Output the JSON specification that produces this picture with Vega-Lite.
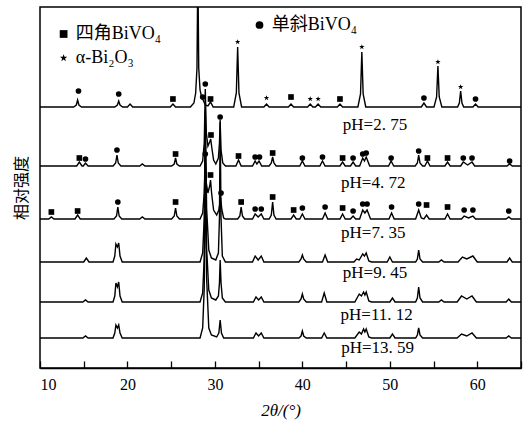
{
"$schema":"https://vega.github.io/schema/vega-lite/v6.json",
"autosize":"none",
"width":481,"height":361,
"padding":{"left":40,"top":7,"right":5,"bottom":59},
"background":"white",
"config":{"view":{"stroke":"black","strokeWidth":1.5},"axis":{"grid":false}},
"datasets":{
"lines":[
{"s":"a","x":10,"y":261},{"s":"a","x":13.85,"y":261},{"s":"a","x":14.15,"y":263},{"s":"a","x":14.3,"y":268},{"s":"a","x":14.45,"y":263},{"s":"a","x":14.75,"y":261},
{"s":"a","x":18.55,"y":261},{"s":"a","x":18.85,"y":263},{"s":"a","x":19.0,"y":267},{"s":"a","x":19.15,"y":263},{"s":"a","x":19.45,"y":261},
{"s":"a","x":20.0,"y":261},{"s":"a","x":20.3,"y":264},{"s":"a","x":20.6,"y":261},
{"s":"a","x":24.9,"y":261},{"s":"a","x":25.2,"y":264},{"s":"a","x":25.5,"y":261},
{"s":"a","x":27.2,"y":261},{"s":"a","x":27.6,"y":265},{"s":"a","x":27.8,"y":275},{"s":"a","x":27.95,"y":300},{"s":"a","x":28.05,"y":400},{"s":"a","x":28.15,"y":300},{"s":"a","x":28.3,"y":278},{"s":"a","x":28.5,"y":270},{"s":"a","x":28.65,"y":268},{"s":"a","x":28.9,"y":263},{"s":"a","x":29.2,"y":262},{"s":"a","x":29.5,"y":266},{"s":"a","x":29.8,"y":261},
{"s":"a","x":32.15,"y":261},{"s":"a","x":32.45,"y":275},{"s":"a","x":32.6,"y":321},{"s":"a","x":32.75,"y":275},{"s":"a","x":33.05,"y":261},
{"s":"a","x":35.6,"y":261},{"s":"a","x":35.9,"y":264},{"s":"a","x":36.2,"y":261},
{"s":"a","x":38.4,"y":261},{"s":"a","x":38.7,"y":264},{"s":"a","x":39.0,"y":261},
{"s":"a","x":40.6,"y":261},{"s":"a","x":40.9,"y":264},{"s":"a","x":41.2,"y":261},{"s":"a","x":41.5,"y":261},{"s":"a","x":41.8,"y":264},{"s":"a","x":42.1,"y":261},
{"s":"a","x":44.0,"y":261},{"s":"a","x":44.3,"y":264},{"s":"a","x":44.6,"y":261},
{"s":"a","x":46.35,"y":261},{"s":"a","x":46.65,"y":274},{"s":"a","x":46.8,"y":316},{"s":"a","x":46.95,"y":274},{"s":"a","x":47.25,"y":261},
{"s":"a","x":53.6,"y":261},{"s":"a","x":53.9,"y":265},{"s":"a","x":54.2,"y":261},
{"s":"a","x":55.05,"y":261},{"s":"a","x":55.35,"y":271},{"s":"a","x":55.5,"y":302},{"s":"a","x":55.65,"y":271},{"s":"a","x":55.95,"y":261},
{"s":"a","x":57.75,"y":261},{"s":"a","x":57.95,"y":265},{"s":"a","x":58.1,"y":277},{"s":"a","x":58.25,"y":265},{"s":"a","x":58.45,"y":261},
{"s":"a","x":59.5,"y":261},{"s":"a","x":59.8,"y":264},{"s":"a","x":60.1,"y":261},{"s":"a","x":65,"y":261},

{"s":"b","x":10,"y":202},{"s":"b","x":14.2,"y":202},{"s":"b","x":14.5,"y":206},{"s":"b","x":14.8,"y":202},{"s":"b","x":14.95,"y":202},{"s":"b","x":15.2,"y":205},{"s":"b","x":15.5,"y":202},
{"s":"b","x":18.35,"y":202},{"s":"b","x":18.65,"y":205},{"s":"b","x":18.8,"y":213},{"s":"b","x":18.95,"y":205},{"s":"b","x":19.25,"y":202},
{"s":"b","x":21.4,"y":202},{"s":"b","x":21.7,"y":204},{"s":"b","x":22.0,"y":202},
{"s":"b","x":25.05,"y":202},{"s":"b","x":25.35,"y":204},{"s":"b","x":25.5,"y":210},{"s":"b","x":25.65,"y":204},{"s":"b","x":25.95,"y":202},
{"s":"b","x":28.3,"y":202},{"s":"b","x":28.6,"y":207},{"s":"b","x":28.78,"y":225},{"s":"b","x":28.9,"y":279},{"s":"b","x":29.02,"y":235},{"s":"b","x":29.2,"y":222},{"s":"b","x":29.4,"y":226},{"s":"b","x":29.52,"y":229},{"s":"b","x":29.65,"y":220},{"s":"b","x":29.85,"y":208},{"s":"b","x":30.1,"y":204},{"s":"b","x":30.4,"y":210},{"s":"b","x":30.52,"y":225},{"s":"b","x":30.6,"y":246},{"s":"b","x":30.7,"y":218},{"s":"b","x":30.9,"y":205},{"s":"b","x":31.2,"y":202},
{"s":"b","x":32.4,"y":202},{"s":"b","x":32.7,"y":208},{"s":"b","x":33.0,"y":202},
{"s":"b","x":34.3,"y":202},{"s":"b","x":34.6,"y":207},{"s":"b","x":34.8,"y":204},{"s":"b","x":35.05,"y":207},{"s":"b","x":35.35,"y":202},
{"s":"b","x":36.2,"y":202},{"s":"b","x":36.45,"y":205},{"s":"b","x":36.6,"y":211},{"s":"b","x":36.75,"y":205},{"s":"b","x":37.0,"y":202},
{"s":"b","x":39.7,"y":202},{"s":"b","x":40.0,"y":207},{"s":"b","x":40.3,"y":202},
{"s":"b","x":42.0,"y":202},{"s":"b","x":42.3,"y":207},{"s":"b","x":42.6,"y":202},
{"s":"b","x":44.3,"y":202},{"s":"b","x":44.6,"y":206},{"s":"b","x":44.9,"y":202},
{"s":"b","x":45.5,"y":202},{"s":"b","x":45.8,"y":206},{"s":"b","x":46.1,"y":202},{"s":"b","x":46.55,"y":202},{"s":"b","x":46.9,"y":210},{"s":"b","x":47.1,"y":207},{"s":"b","x":47.3,"y":211},{"s":"b","x":47.7,"y":202},
{"s":"b","x":49.85,"y":202},{"s":"b","x":50.15,"y":207},{"s":"b","x":50.45,"y":202},
{"s":"b","x":52.9,"y":202},{"s":"b","x":53.15,"y":205},{"s":"b","x":53.3,"y":213},{"s":"b","x":53.45,"y":205},{"s":"b","x":53.75,"y":202},{"s":"b","x":54.0,"y":202},{"s":"b","x":54.3,"y":207},{"s":"b","x":54.6,"y":202},
{"s":"b","x":56.3,"y":202},{"s":"b","x":56.6,"y":206},{"s":"b","x":56.9,"y":202},
{"s":"b","x":58.1,"y":202},{"s":"b","x":58.4,"y":206},{"s":"b","x":58.9,"y":203},{"s":"b","x":59.4,"y":206},{"s":"b","x":59.7,"y":202},
{"s":"b","x":63.4,"y":202},{"s":"b","x":63.7,"y":204},{"s":"b","x":64.0,"y":202},{"s":"b","x":65,"y":202},

{"s":"c","x":10,"y":149},{"s":"c","x":11.0,"y":149},{"s":"c","x":11.3,"y":151},{"s":"c","x":11.6,"y":149},
{"s":"c","x":14.0,"y":149},{"s":"c","x":14.3,"y":153},{"s":"c","x":14.6,"y":149},
{"s":"c","x":18.45,"y":149},{"s":"c","x":18.75,"y":152},{"s":"c","x":18.9,"y":161},{"s":"c","x":19.05,"y":152},{"s":"c","x":19.35,"y":149},
{"s":"c","x":21.4,"y":149},{"s":"c","x":21.7,"y":151},{"s":"c","x":22.0,"y":149},
{"s":"c","x":25.05,"y":149},{"s":"c","x":25.35,"y":152},{"s":"c","x":25.5,"y":160},{"s":"c","x":25.65,"y":152},{"s":"c","x":25.95,"y":149},
{"s":"c","x":28.3,"y":149},{"s":"c","x":28.6,"y":155},{"s":"c","x":28.78,"y":175},{"s":"c","x":28.9,"y":208},{"s":"c","x":29.02,"y":185},{"s":"c","x":29.2,"y":175},{"s":"c","x":29.4,"y":182},{"s":"c","x":29.5,"y":188},{"s":"c","x":29.62,"y":175},{"s":"c","x":29.85,"y":158},{"s":"c","x":30.2,"y":153},{"s":"c","x":30.45,"y":158},{"s":"c","x":30.65,"y":170},{"s":"c","x":30.8,"y":158},{"s":"c","x":31.0,"y":150},{"s":"c","x":31.2,"y":149},
{"s":"c","x":32.6,"y":149},{"s":"c","x":32.85,"y":152},{"s":"c","x":33.0,"y":161},{"s":"c","x":33.15,"y":152},{"s":"c","x":33.4,"y":149},
{"s":"c","x":34.3,"y":149},{"s":"c","x":34.6,"y":154},{"s":"c","x":34.95,"y":151},{"s":"c","x":35.3,"y":154},{"s":"c","x":35.6,"y":149},
{"s":"c","x":36.2,"y":149},{"s":"c","x":36.45,"y":153},{"s":"c","x":36.6,"y":166},{"s":"c","x":36.75,"y":153},{"s":"c","x":37.0,"y":149},
{"s":"c","x":38.7,"y":149},{"s":"c","x":39.0,"y":153},{"s":"c","x":39.3,"y":149},{"s":"c","x":39.7,"y":149},{"s":"c","x":40.0,"y":154},{"s":"c","x":40.3,"y":149},
{"s":"c","x":42.3,"y":149},{"s":"c","x":42.6,"y":155},{"s":"c","x":42.9,"y":149},
{"s":"c","x":44.3,"y":149},{"s":"c","x":44.6,"y":154},{"s":"c","x":44.9,"y":149},
{"s":"c","x":45.5,"y":149},{"s":"c","x":45.8,"y":152},{"s":"c","x":46.1,"y":149},{"s":"c","x":46.55,"y":149},{"s":"c","x":46.9,"y":158},{"s":"c","x":47.15,"y":155},{"s":"c","x":47.4,"y":158},{"s":"c","x":47.8,"y":149},
{"s":"c","x":49.9,"y":149},{"s":"c","x":50.2,"y":155},{"s":"c","x":50.5,"y":149},
{"s":"c","x":52.95,"y":149},{"s":"c","x":53.3,"y":158},{"s":"c","x":53.6,"y":150},{"s":"c","x":53.9,"y":149},{"s":"c","x":54.2,"y":153},{"s":"c","x":54.5,"y":149},
{"s":"c","x":56.3,"y":149},{"s":"c","x":56.6,"y":154},{"s":"c","x":56.9,"y":149},
{"s":"c","x":58.2,"y":149},{"s":"c","x":58.5,"y":152},{"s":"c","x":59.0,"y":150},{"s":"c","x":59.5,"y":152},{"s":"c","x":59.8,"y":149},
{"s":"c","x":63.3,"y":149},{"s":"c","x":63.6,"y":151},{"s":"c","x":63.9,"y":149},{"s":"c","x":65,"y":149},

{"s":"d","x":10,"y":106},{"s":"d","x":15.0,"y":106},{"s":"d","x":15.3,"y":110},{"s":"d","x":15.6,"y":106},
{"s":"d","x":18.35,"y":106},{"s":"d","x":18.55,"y":112},{"s":"d","x":18.68,"y":124},{"s":"d","x":18.85,"y":121},{"s":"d","x":19.0,"y":125},{"s":"d","x":19.15,"y":112},{"s":"d","x":19.4,"y":106},
{"s":"d","x":28.3,"y":106},{"s":"d","x":28.6,"y":115},{"s":"d","x":28.78,"y":150},{"s":"d","x":28.9,"y":258},{"s":"d","x":29.05,"y":160},{"s":"d","x":29.3,"y":118},{"s":"d","x":29.6,"y":110},{"s":"d","x":30.1,"y":108},{"s":"d","x":30.4,"y":115},{"s":"d","x":30.52,"y":150},{"s":"d","x":30.6,"y":248},{"s":"d","x":30.7,"y":150},{"s":"d","x":30.85,"y":112},{"s":"d","x":31.2,"y":106},
{"s":"d","x":34.3,"y":106},{"s":"d","x":34.6,"y":112},{"s":"d","x":34.95,"y":108},{"s":"d","x":35.3,"y":112},{"s":"d","x":35.6,"y":106},
{"s":"d","x":39.6,"y":106},{"s":"d","x":39.85,"y":109},{"s":"d","x":40.0,"y":113},{"s":"d","x":40.15,"y":109},{"s":"d","x":40.45,"y":106},
{"s":"d","x":42.3,"y":106},{"s":"d","x":42.6,"y":113},{"s":"d","x":42.9,"y":106},
{"s":"d","x":45.9,"y":106},{"s":"d","x":46.2,"y":109},{"s":"d","x":46.5,"y":108},{"s":"d","x":46.9,"y":114},{"s":"d","x":47.1,"y":112},{"s":"d","x":47.3,"y":115},{"s":"d","x":47.6,"y":107},{"s":"d","x":47.9,"y":106},
{"s":"d","x":49.7,"y":106},{"s":"d","x":50.0,"y":111},{"s":"d","x":50.3,"y":106},
{"s":"d","x":52.95,"y":106},{"s":"d","x":53.15,"y":109},{"s":"d","x":53.3,"y":118},{"s":"d","x":53.45,"y":109},{"s":"d","x":53.75,"y":106},
{"s":"d","x":55.6,"y":106},{"s":"d","x":55.9,"y":108},{"s":"d","x":56.2,"y":106},
{"s":"d","x":57.8,"y":106},{"s":"d","x":58.3,"y":111},{"s":"d","x":58.8,"y":109},{"s":"d","x":59.5,"y":112},{"s":"d","x":60.0,"y":106},
{"s":"d","x":63.4,"y":106},{"s":"d","x":63.7,"y":110},{"s":"d","x":64.0,"y":106},{"s":"d","x":65,"y":106},

{"s":"e","x":10,"y":66},{"s":"e","x":14.9,"y":66},{"s":"e","x":15.2,"y":68},{"s":"e","x":15.5,"y":66},
{"s":"e","x":18.35,"y":66},{"s":"e","x":18.55,"y":72},{"s":"e","x":18.68,"y":85},{"s":"e","x":18.85,"y":81},{"s":"e","x":19.0,"y":86},{"s":"e","x":19.15,"y":72},{"s":"e","x":19.4,"y":66},
{"s":"e","x":28.3,"y":66},{"s":"e","x":28.6,"y":75},{"s":"e","x":28.78,"y":110},{"s":"e","x":28.9,"y":238},{"s":"e","x":29.05,"y":120},{"s":"e","x":29.3,"y":78},{"s":"e","x":29.6,"y":70},{"s":"e","x":30.1,"y":68},{"s":"e","x":30.4,"y":72},{"s":"e","x":30.52,"y":85},{"s":"e","x":30.6,"y":108},{"s":"e","x":30.7,"y":85},{"s":"e","x":30.85,"y":70},{"s":"e","x":31.2,"y":66},
{"s":"e","x":34.4,"y":66},{"s":"e","x":34.7,"y":71},{"s":"e","x":35.0,"y":68},{"s":"e","x":35.3,"y":71},{"s":"e","x":35.6,"y":66},
{"s":"e","x":39.6,"y":66},{"s":"e","x":39.85,"y":69},{"s":"e","x":40.0,"y":74},{"s":"e","x":40.15,"y":69},{"s":"e","x":40.45,"y":66},
{"s":"e","x":42.2,"y":66},{"s":"e","x":42.5,"y":75},{"s":"e","x":42.8,"y":66},
{"s":"e","x":46.0,"y":66},{"s":"e","x":46.5,"y":74},{"s":"e","x":46.75,"y":72},{"s":"e","x":47.0,"y":76},{"s":"e","x":47.15,"y":73},{"s":"e","x":47.3,"y":76},{"s":"e","x":47.6,"y":67},{"s":"e","x":47.9,"y":66},
{"s":"e","x":50.0,"y":66},{"s":"e","x":50.3,"y":70},{"s":"e","x":50.6,"y":66},
{"s":"e","x":52.95,"y":66},{"s":"e","x":53.15,"y":70},{"s":"e","x":53.3,"y":81},{"s":"e","x":53.45,"y":70},{"s":"e","x":53.75,"y":66},
{"s":"e","x":55.6,"y":66},{"s":"e","x":55.9,"y":68},{"s":"e","x":56.2,"y":66},
{"s":"e","x":57.7,"y":66},{"s":"e","x":58.2,"y":72},{"s":"e","x":58.8,"y":69},{"s":"e","x":59.4,"y":72},{"s":"e","x":59.9,"y":66},
{"s":"e","x":63.3,"y":66},{"s":"e","x":63.6,"y":69},{"s":"e","x":63.9,"y":66},{"s":"e","x":65,"y":66},

{"s":"f","x":10,"y":30},{"s":"f","x":14.9,"y":30},{"s":"f","x":15.2,"y":32},{"s":"f","x":15.5,"y":30},
{"s":"f","x":18.35,"y":30},{"s":"f","x":18.55,"y":35},{"s":"f","x":18.68,"y":43},{"s":"f","x":18.85,"y":40},{"s":"f","x":19.0,"y":43},{"s":"f","x":19.15,"y":35},{"s":"f","x":19.4,"y":30},
{"s":"f","x":28.3,"y":30},{"s":"f","x":28.6,"y":40},{"s":"f","x":28.78,"y":80},{"s":"f","x":28.9,"y":208},{"s":"f","x":29.05,"y":90},{"s":"f","x":29.3,"y":40},{"s":"f","x":29.6,"y":33},{"s":"f","x":30.2,"y":31},{"s":"f","x":30.45,"y":35},{"s":"f","x":30.6,"y":48},{"s":"f","x":30.75,"y":35},{"s":"f","x":31.0,"y":30},
{"s":"f","x":34.4,"y":30},{"s":"f","x":34.7,"y":35},{"s":"f","x":35.0,"y":32},{"s":"f","x":35.3,"y":35},{"s":"f","x":35.6,"y":30},
{"s":"f","x":39.6,"y":30},{"s":"f","x":39.85,"y":32},{"s":"f","x":40.0,"y":37},{"s":"f","x":40.15,"y":32},{"s":"f","x":40.45,"y":30},
{"s":"f","x":42.2,"y":30},{"s":"f","x":42.5,"y":35},{"s":"f","x":42.8,"y":30},
{"s":"f","x":46.0,"y":30},{"s":"f","x":46.5,"y":36},{"s":"f","x":46.75,"y":34},{"s":"f","x":47.0,"y":39},{"s":"f","x":47.15,"y":36},{"s":"f","x":47.3,"y":39},{"s":"f","x":47.6,"y":31},{"s":"f","x":47.9,"y":30},
{"s":"f","x":50.0,"y":30},{"s":"f","x":50.3,"y":34},{"s":"f","x":50.6,"y":30},
{"s":"f","x":52.95,"y":30},{"s":"f","x":53.15,"y":33},{"s":"f","x":53.3,"y":40},{"s":"f","x":53.45,"y":33},{"s":"f","x":53.75,"y":30},
{"s":"f","x":57.7,"y":30},{"s":"f","x":58.2,"y":34},{"s":"f","x":58.8,"y":32},{"s":"f","x":59.4,"y":35},{"s":"f","x":59.9,"y":30},
{"s":"f","x":63.3,"y":30},{"s":"f","x":63.6,"y":32},{"s":"f","x":63.9,"y":30},{"s":"f","x":65,"y":30}
],
"marks":[
{"x":14.4,"y":277,"m":"ci"},{"x":19.0,"y":274,"m":"ci"},{"x":25.2,"y":269,"m":"sq"},{"x":28.6,"y":271,"m":"ci"},{"x":29.5,"y":269,"m":"sq"},{"x":32.6,"y":326,"m":"st"},{"x":35.9,"y":270,"m":"st"},{"x":38.7,"y":271,"m":"sq"},{"x":40.9,"y":269,"m":"st"},{"x":41.8,"y":269,"m":"st"},{"x":44.3,"y":269,"m":"sq"},{"x":46.8,"y":321,"m":"st"},{"x":53.9,"y":270,"m":"ci"},{"x":55.5,"y":306,"m":"st"},{"x":58.1,"y":281,"m":"st"},{"x":59.8,"y":269,"m":"ci"},
{"x":14.5,"y":210,"m":"sq"},{"x":15.2,"y":209,"m":"ci"},{"x":18.8,"y":218,"m":"ci"},{"x":25.5,"y":214,"m":"sq"},{"x":28.9,"y":284,"m":"ci"},{"x":29.55,"y":233,"m":"sq"},{"x":30.6,"y":251,"m":"ci"},{"x":32.7,"y":212,"m":"sq"},{"x":34.6,"y":211,"m":"ci"},{"x":35.1,"y":211,"m":"ci"},{"x":36.6,"y":215,"m":"sq"},{"x":40.0,"y":210,"m":"ci"},{"x":42.3,"y":211,"m":"ci"},{"x":44.6,"y":210,"m":"sq"},{"x":45.8,"y":210,"m":"ci"},{"x":46.9,"y":214,"m":"ci"},{"x":47.3,"y":215,"m":"ci"},{"x":50.15,"y":210,"m":"ci"},{"x":53.3,"y":217,"m":"ci"},{"x":54.3,"y":210,"m":"sq"},{"x":56.6,"y":210,"m":"sq"},{"x":58.4,"y":210,"m":"ci"},{"x":59.4,"y":210,"m":"ci"},{"x":63.7,"y":207,"m":"ci"},
{"x":11.3,"y":156,"m":"sq"},{"x":14.3,"y":157,"m":"sq"},{"x":18.9,"y":166,"m":"ci"},{"x":25.5,"y":166,"m":"sq"},{"x":28.9,"y":214,"m":"ci"},{"x":29.5,"y":193,"m":"sq"},{"x":30.7,"y":175,"m":"ci"},{"x":33.0,"y":166,"m":"sq"},{"x":34.6,"y":159,"m":"ci"},{"x":35.3,"y":159,"m":"ci"},{"x":36.6,"y":171,"m":"sq"},{"x":39.0,"y":158,"m":"sq"},{"x":40.0,"y":160,"m":"ci"},{"x":42.6,"y":161,"m":"ci"},{"x":44.6,"y":160,"m":"sq"},{"x":45.8,"y":157,"m":"ci"},{"x":46.9,"y":164,"m":"ci"},{"x":47.4,"y":164,"m":"ci"},{"x":50.2,"y":161,"m":"ci"},{"x":53.3,"y":164,"m":"ci"},{"x":54.2,"y":163,"m":"sq"},{"x":56.6,"y":161,"m":"sq"},{"x":58.5,"y":158,"m":"ci"},{"x":59.5,"y":158,"m":"ci"},{"x":63.6,"y":157,"m":"ci"}
],
"labels":[
{"x":48.3,"y":243,"t":"pH=2. 75"},{"x":48.1,"y":185,"t":"pH=4. 72"},{"x":48.1,"y":135,"t":"pH=7. 35"},{"x":48.3,"y":95,"t":"pH=9. 45"},{"x":48.5,"y":53,"t":"pH=11. 12"},{"x":48.6,"y":20,"t":"pH=13. 59"}
],
"legend":[
{"x":12.7,"y":334,"m":"sq","t":"四角BiVO₄","tx":14.1},{"x":12.7,"y":310,"m":"st","t":"α-Bi₂O₃","tx":14.1},{"x":35.1,"y":343,"m":"ci","t":"单斜BiVO₄","tx":36.5}
]
},
"encoding":{
"x":{"type":"quantitative","scale":{"domain":[10,65],"nice":false,"zero":false}},
"y":{"type":"quantitative","scale":{"domain":[0,361],"nice":false,"zero":false}}
},
"layer":[
{"data":{"name":"lines"},"mark":{"type":"line","color":"black","strokeWidth":1.4,"clip":true},
 "encoding":{"x":{"field":"x","type":"quantitative",
   "axis":{"values":[10,15,20,25,30,35,40,45,50,55,60,65],"labelExpr":"datum.value % 10 == 0 ? datum.value : ''","tickSize":-7,"tickColor":"black","tickWidth":1.3,"domainColor":"black","domainWidth":1.5,"labelFont":"Liberation Serif","labelFontSize":16,"labelColor":"black","labelPadding":15,"title":"2θ/(°)","titleFont":"Liberation Serif","titleFontStyle":"italic","titleFontWeight":"normal","titleFontSize":17,"titleColor":"black","titlePadding":10}},
  "y":{"field":"y","type":"quantitative","axis":{"labels":false,"ticks":false,"domain":false,"title":"相对强度","titleFont":"Noto Sans CJK SC","titleFontWeight":"normal","titleFontSize":16,"titleColor":"black","titlePadding":11}},
  "detail":{"field":"s"}}},
{"data":{"name":"marks"},"mark":{"type":"point","filled":true,"color":"black","opacity":1,"size":32},
 "encoding":{"x":{"field":"x","type":"quantitative"},"y":{"field":"y","type":"quantitative"},
  "shape":{"field":"m","type":"nominal","legend":null,"scale":{"domain":["sq","ci","st"],"range":["square","circle","M0,-1L0.24,-0.31L0.95,-0.31L0.38,0.12L0.59,0.81L0,0.38L-0.59,0.81L-0.38,0.12L-0.95,-0.31L-0.24,-0.31Z"]}}}},
{"data":{"name":"labels"},"mark":{"type":"text","font":"Liberation Serif","fontSize":17,"color":"black","align":"center","baseline":"middle"},
 "encoding":{"x":{"field":"x","type":"quantitative"},"y":{"field":"y","type":"quantitative"},"text":{"field":"t"}}},
{"data":{"name":"legend"},"mark":{"type":"point","filled":true,"color":"black","opacity":1,"size":60},
 "encoding":{"x":{"field":"x","type":"quantitative"},"y":{"field":"y","type":"quantitative"},
  "shape":{"field":"m","type":"nominal","legend":null}}},
{"data":{"name":"legend"},"mark":{"type":"text","font":"Liberation Serif, Noto Sans CJK SC","fontSize":18,"color":"black","align":"left","baseline":"middle"},
 "encoding":{"x":{"field":"tx","type":"quantitative"},"y":{"field":"y","type":"quantitative"},"text":{"field":"t"}}}
]
}
